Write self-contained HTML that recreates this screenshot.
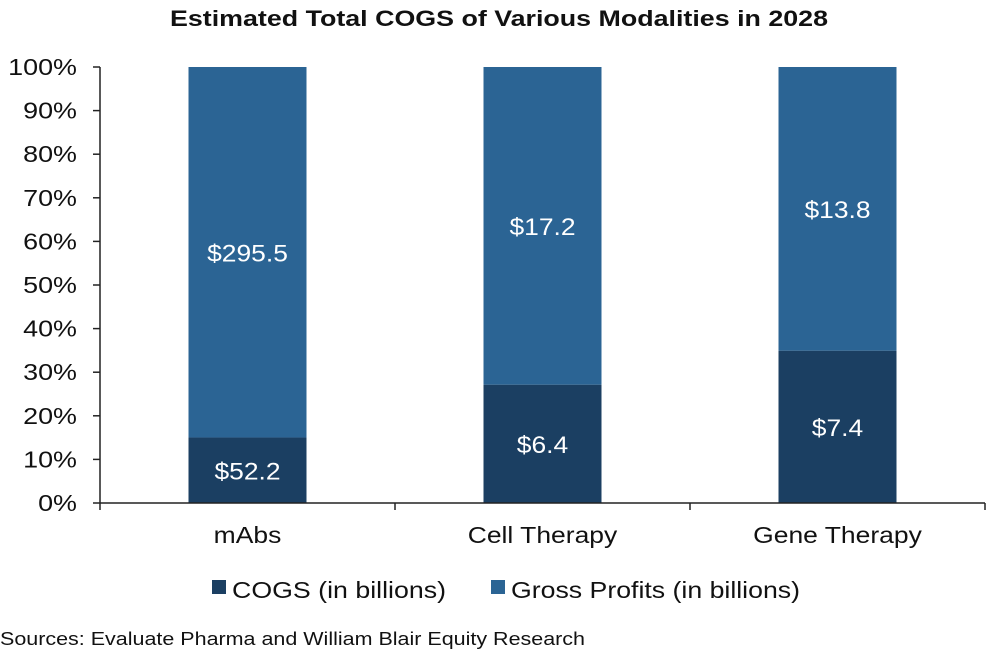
<!DOCTYPE html>
<html><head><meta charset="utf-8"><style>
body{margin:0;background:#fff;}
svg{display:block;font-family:"Liberation Sans",Arial,sans-serif;}
</style></head><body>
<svg id="chart" width="997" height="661" viewBox="0 0 997 661">
<text x="499" y="26" text-anchor="middle" font-size="22" font-weight="bold" fill="#111" data-w="658">Estimated Total COGS of Various Modalities in 2028</text>
<g id="yaxis"></g>
<g id="bars"></g>
<g id="xaxis"></g>
<g>
<rect x="212" y="580" width="14" height="14" fill="#1b3f62"/>
<text x="232" y="598" font-size="23" fill="#111" data-w="214">COGS (in billions)</text>
<rect x="491" y="580" width="14" height="14" fill="#2b6494"/>
<text x="511" y="598" font-size="23" fill="#111" data-w="289">Gross Profits (in billions)</text>
</g>
<text x="0" y="645" font-size="18" fill="#111" data-w="585">Sources: Evaluate Pharma and William Blair Equity Research</text>
</svg>
<script>
const categories = ["mAbs","Cell Therapy","Gene Therapy"];
const cogs = [52.2, 6.4, 7.4];
const grossProfits = [295.5, 17.2, 13.8];
const yTicks = [0,10,20,30,40,50,60,70,80,90,100];

const NS="http://www.w3.org/2000/svg";
const x0=100,x1=985,yb=503,yt=67;
const y=p=>yb-(yb-yt)*p/100;
const band=(x1-x0)/categories.length;
const cx=i=>x0+band*(i+0.5);
const bw=118;
function mk(tag,attrs,parent,text){const e=document.createElementNS(NS,tag);for(const k in attrs)e.setAttribute(k,attrs[k]);if(text!==undefined)e.textContent=text;parent.appendChild(e);return e;}
const ya=document.getElementById('yaxis'),xa=document.getElementById('xaxis'),bars=document.getElementById('bars');
yTicks.forEach(t=>{
  const l=mk('line',{x1:93,x2:x0,y1:y(t),y2:y(t),stroke:'#222','stroke-width':1.5},ya);
  
  
  const tx=mk('text',{x:77,y:y(t)+8,'text-anchor':'end','font-size':23,fill:'#111','data-sx':1.17},ya,t+'%');
  
  
});
categories.forEach((c,i)=>{
  const tot=cogs[i]+grossProfits[i];
  const pc=cogs[i]/tot*100;
  const r1=mk('rect',{x:cx(i)-bw/2,y:y(100),width:bw,height:y(pc)-y(100),fill:'#2b6494'},bars);
  
  
  const r2=mk('rect',{x:cx(i)-bw/2,y:y(pc),width:bw,height:yb-y(pc),fill:'#1b3f62'},bars);
  
  
  const t1=mk('text',{x:cx(i),y:(y(100)+y(pc))/2+9,'text-anchor':'middle','font-size':24,fill:'#fff','data-sx':1.1},bars,'$'+grossProfits[i].toFixed(1));
  
  
  const t2=mk('text',{x:cx(i),y:(yb+y(pc))/2+9,'text-anchor':'middle','font-size':24,fill:'#fff','data-sx':1.1},bars,'$'+cogs[i].toFixed(1));
  
  
  const xl=mk('text',{x:cx(i),y:543,'text-anchor':'middle','font-size':23,fill:'#111','data-sx':1.15},xa,c);
  
  
}
);
for(let i=0;i<=categories.length;i++){
  const l=mk('line',{x1:x0+band*i,x2:x0+band*i,y1:yb,y2:yb+7,stroke:'#222','stroke-width':1.5},xa);
  
  
}
const ax=mk('line',{x1:x0,x2:x0,y1:yt,y2:yb,stroke:'#222','stroke-width':1.5},ya);


const bx=mk('line',{x1:x0,x2:x1,y1:yb,y2:yb,stroke:'#222','stroke-width':1.5},xa);


document.querySelectorAll('text').forEach(t=>{
  let w=null;
  if(t.dataset.w) w=+t.dataset.w;
  else if(t.dataset.sx) w=t.getComputedTextLength()*(+t.dataset.sx);
  if(w){t.setAttribute('textLength',w);t.setAttribute('lengthAdjust','spacingAndGlyphs');}
});
</script>
</body></html>
